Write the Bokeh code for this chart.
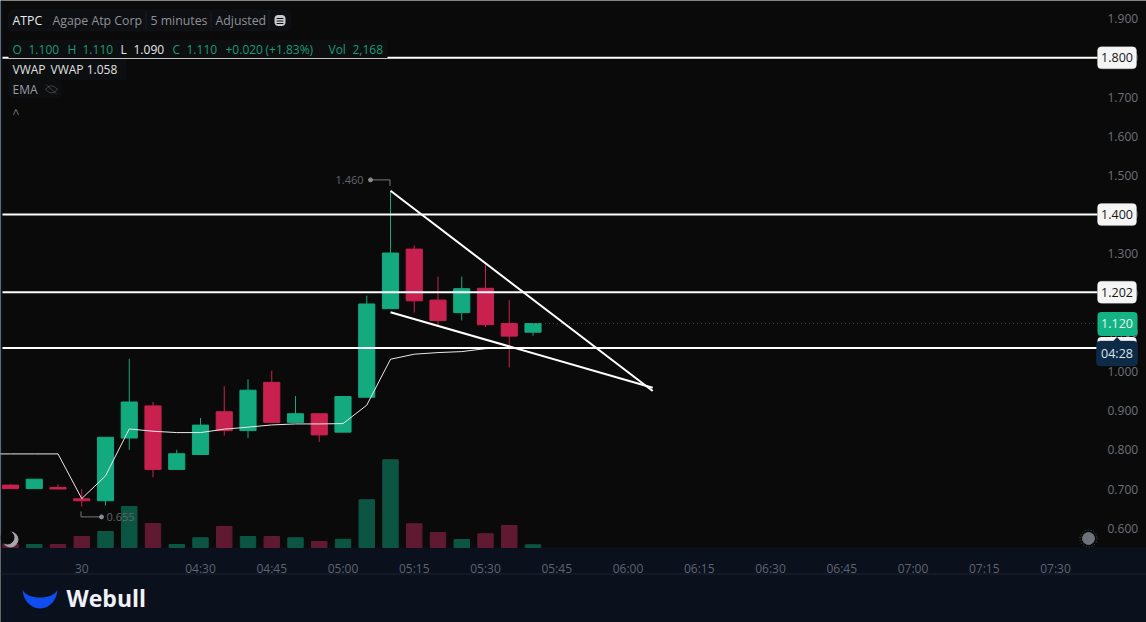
from bokeh.plotting import figure
from bokeh.embed import file_html
from bokeh.resources import INLINE
from bokeh.models import (Range1d, FixedTicker, NumeralTickFormatter, Label,
                          BoxAnnotation, PolyAnnotation, ColumnDataSource)
import math

FONT = "Open Sans"
BG = "#0a0a0a"
NAVY = "#0b101d"
GREEN = "#13aa7f"
RED = "#c9214f"
VGREEN = "#0d5543"
VRED = "#5f1a31"

minutes = [-10, -5, 0, 5, 10, 15, 20, 25, 30, 35, 40, 45, 50, 55, 60, 65, 70, 75, 80, 85, 90, 95, 100]
opens = [.710, .701, .704, .675, .670, .830, .912, .750, .788, .897, .849, .972, .870, .892, .845, .934, 1.160, 1.312, 1.182, 1.150, 1.212, 1.122, 1.100]
closes = [.701, .725, .700, .670, .832, .922, .750, .790, .863, .849, .952, .870, .892, .838, .936, 1.172, 1.302, 1.180, 1.130, 1.211, 1.119, 1.090, 1.122]
highs = [.712, .725, .712, .700, .832, 1.032, .922, .800, .881, .962, .980, 1.002, .937, .892, .936, 1.193, 1.460, 1.322, 1.242, 1.242, 1.273, 1.182, 1.122]
lows = [.701, .701, .700, .655, .658, .800, .730, .750, .788, .836, .830, .870, .870, .820, .845, .934, 1.160, 1.150, 1.114, 1.130, 1.113, 1.010, 1.091]
volumes = [2400, 2400, 2400, 8800, 12800, 32800, 19200, 2400, 7800, 16800, 8800, 8800, 7800, 4800, 6600, 38200, 70200, 19000, 12000, 6400, 11000, 17600, 2168]

vwap_x = [-14, -10, -5, 0, 5, 10, 15, 20, 25, 30, 35, 40, 45, 50, 55, 60, 65, 70, 75, 80, 85, 90, 95]
vwap_y = [.7895, .7895, .7895, .7895, .6755, .7334, .8533, .8474, .8439, .8439, .8526, .8577, .8635, .866, .866, .8668, .9138, 1.031, 1.0439, 1.048, 1.0505, 1.058, 1.0607]

levels = [1.800, 1.400, 1.202, 1.060]
level_labels = ["1.800", "1.400", "1.202"]
trend_upper_x, trend_upper_y = [70, 125.2], [1.461, .950]
trend_lower_x, trend_lower_y = [70, 125.2], [1.151, .9585]

price_ticks = [.6, .7, .8, .9, 1.0, 1.1, 1.2, 1.3, 1.4, 1.5, 1.6, 1.7, 1.8, 1.9]
time_ticks = [5, 30, 45, 60, 75, 90, 105, 120, 135, 150, 165, 180, 195, 210]
time_labels = ["30", "04:30", "04:45", "05:00", "05:15", "05:30", "05:45", "06:00", "06:15", "06:30", "06:45", "07:00", "07:15", "07:30"]

Y_ONE = 370.9


def px(rx):
    return 30 + (rx - 200) / 4.75


def py(ry):
    return 1 + (Y_ONE - ry) / 392


def pp(ry):
    # overlay position: keeps the same offset as the price scale
    return py(ry - 0.6)


def ry_of(price):
    return Y_ONE + (1 - price) * 392


VOL_PER_PX = 800
p = figure(frame_width=1146, frame_height=622, output_backend="svg", toolbar_location=None,
           x_range=Range1d(px(0), px(1146)), y_range=Range1d(py(622), py(0)),
           y_axis_location="right", min_border_left=0, min_border_top=0,
           min_border_right=0, min_border_bottom=0,
           background_fill_color=BG, border_fill_color=BG, outline_line_color=None)
p.extra_y_ranges = {"vol": Range1d(-75 * VOL_PER_PX, 547 * VOL_PER_PX)}
p.grid.visible = False

ya = p.yaxis[0]
ya.ticker = FixedTicker(ticks=price_ticks)
ya.formatter = NumeralTickFormatter(format="0.000")
ya.axis_line_color = None
ya.major_tick_line_color = None
ya.minor_tick_line_color = None
ya.major_label_text_color = "#6f7278"
ya.major_label_text_font = FONT
ya.major_label_text_font_size = "12px"
ya.major_label_standoff = -45

xa = p.xaxis[0]
xa.ticker = FixedTicker(ticks=time_ticks)
xa.major_label_overrides = dict(zip(time_ticks, time_labels))
xa.axis_line_color = None
xa.major_tick_line_color = None
xa.minor_tick_line_color = None
xa.major_label_text_color = "#5f6470"
xa.major_label_text_font = FONT
xa.major_label_text_font_size = "12px"
xa.major_label_standoff = -69

# footer band behind the time axis
p.add_layout(BoxAnnotation(left=px(0), right=px(1146), top=py(547), bottom=py(622), fill_color=NAVY,
                           fill_alpha=1, line_color=None, level="underlay"))
p.add_layout(BoxAnnotation(left=px(0), right=px(1146), top=py(573), bottom=py(574), fill_color="#1e2331",
                           fill_alpha=1, line_color=None, level="underlay"))
p.add_layout(BoxAnnotation(left=px(0), right=px(2), top=py(0), bottom=py(547), fill_color=NAVY,
                           fill_alpha=1, line_color=None, level="underlay"))

colors = [GREEN if c >= o else RED for o, c in zip(opens, closes)]
vcolors = [VGREEN if c >= o else VRED for o, c in zip(opens, closes)]
src = ColumnDataSource(dict(x=minutes, o=opens, c=closes, h=highs, l=lows, v=volumes, col=colors, vcol=vcolors,
                            top=[max(a, b) for a, b in zip(opens, closes)],
                            bot=[min(a, b) for a, b in zip(opens, closes)]))

p.vbar(x="x", width=3.25, top="v", bottom=0, y_range_name="vol", color="vcol", source=src)

# moon and marker
p.scatter([px(10)], [py(539)], size=15, color="#a5a5aa")
p.scatter([px(7)], [py(537)], size=13, color="#0a0a0a")
p.scatter([px(1088)], [py(538)], size=17, fill_color=None, line_color="#555a60", line_dash="1 2")
p.scatter([px(1088)], [py(538)], size=12, color="#6e7279")

p.segment(x0="x", x1="x", y0="l", y1="h", color="col", line_width=1, source=src)
p.vbar(x="x", width=3.4, top="top", bottom="bot", color="col", source=src)

p.line(vwap_x, vwap_y, color="#e8e8e8", line_width=1)

# last price dotted line
p.line([minutes[-1], px(1097)], [closes[-1], closes[-1]], color="#3a4a43", line_width=1, line_dash="1 3")

# high / low markers
p.line([px(370), px(389.5), px(389.5)], [pp(180), pp(180), pp(186)], color="#77797c", line_width=1)
p.scatter([px(370)], [pp(180)], size=4, color="#8a8c90")
p.line([px(80.5), px(80.5), px(101)], [pp(511.5), pp(517), pp(517)], color="#77797c", line_width=1)
p.scatter([px(101)], [pp(517)], size=4, color="#8a8c90")

for lv in levels:
    p.line([px(2), px(1097)], [lv, lv], color="white", line_width=2)
p.line(trend_upper_x, trend_upper_y, color="white", line_width=2)
p.line(trend_lower_x, trend_lower_y, color="white", line_width=2)


def txt(s, x, y, color="#c8c8c8", size="12.3px", align="left", **kw):
    p.add_layout(Label(x=px(x), y=pp(y), text=s, text_color=color, text_font=FONT, text_font_size=size,
                       text_align=align, text_baseline="middle", **kw))


def box(l, r, t, b, fill, line=None):
    p.add_layout(BoxAnnotation(left=px(l), right=px(r), top=pp(t), bottom=pp(b), fill_color=fill, fill_alpha=1,
                               line_color=line, border_radius=4))


txt("1.460", 363, 180, "#63656a", "11px", "right")
txt("0.655", 106, 517, "#63656a", "11px")

# header
box(8, 290, 10, 31, "#0e0f12", "#1b1c20")
for dx in (145, 210, 268):
    box(dx, dx + 1, 11, 30, "#1b1c20")
txt("ATPC", 12, 20.5, "#ececec")
txt("Agape Atp Corp", 52, 20.5, "#8f9296")
txt("5 minutes", 150, 20.5, "#8f9296")
txt("Adjusted", 215, 20.5, "#8f9296")
box(274, 285, 15, 26, "#c9cacc")
for ly in (18, 20.5, 23):
    box(276, 283, ly, ly + 1, "#0e0f12")

p.add_layout(BoxAnnotation(left=px(8), right=px(387), top=pp(40), bottom=pp(58), fill_color="#0d0e10", fill_alpha=1,
                           line_color=None))
OHLC = "#1d9a78"
for s, x, c in [("O", 12, OHLC), ("1.100", 28, OHLC), ("H", 67, OHLC), ("1.110", 82, OHLC), ("L", 120, "#e8e8e8"),
                ("1.090", 133, "#e8e8e8"), ("C", 172, OHLC), ("1.110", 186, OHLC), ("+0.020", 225, OHLC),
                ("(+1.83%)", 265, OHLC), ("Vol", 328, OHLC), ("2,168", 352, OHLC)]:
    txt(s, x, 49.5, c, "12px")

p.add_layout(BoxAnnotation(left=px(8), right=px(126), top=pp(59), bottom=pp(80), fill_color="#0d0e10", fill_alpha=1,
                           line_color=None))
txt("VWAP", 12, 69.5, "#e0e0e0", "12px")
txt("VWAP 1.058", 50, 69.5, "#e0e0e0", "12px")
box(8, 61, 80, 98, "#0d0e10")
txt("EMA", 12, 89.5, "#9a9da1", "12px")
txt("^", 12, 114, "#77797c", "12px")

# right-hand price tags
for lv, s in zip(levels, level_labels):
    box(1097, 1136, ry_of(lv) + 0.6 - 11, ry_of(lv) + 0.6 + 11, "#f5f5f5", "#dddddd")
    txt(s, 1116.5, ry_of(lv) + 0.6, "#151515", "12.5px", "center")
box(1097, 1136, 337, 359, "#f5f5f5")
box(1097, 1137, 312, 336, "#13b384")
txt("1.120", 1116.5, 324, "#e8f5f0", "12.5px", "center")
box(1096, 1137, 341, 366, "#0d2a47", "#14375c")
p.add_layout(PolyAnnotation(xs=[px(1112), px(1116.5), px(1121)], ys=[pp(342), pp(337), pp(342)],
                            fill_color="#0d2a47", fill_alpha=1, line_color=None))
txt("04:28", 1116.5, 354, "#dbe3ea", "12.5px", "center")

# eye icon in the EMA row
p.add_layout(PolyAnnotation(xs=[px(45 + 12 * i / 8) for i in range(9)] + [px(57 - 12 * i / 8) for i in range(1, 8)],
                            ys=[pp(89.5 - 3.5 * math.sin(math.pi * i / 8)) for i in range(9)]
                            + [pp(89.5 + 3.5 * math.sin(math.pi * i / 8)) for i in range(1, 8)],
                            fill_color=None, fill_alpha=0, line_color="#b0b3b6", line_width=1))
p.add_layout(PolyAnnotation(xs=[px(46), px(56)], ys=[pp(85), pp(94)], fill_alpha=0, line_color="#b0b3b6", line_width=1))

# footer logo
n = 24
crescent_x, crescent_y = [], []
for i in range(n + 1):
    t = math.pi * i / n
    crescent_x.append(39.5 - 17.5 * math.cos(t))
    crescent_y.append(588 + 20 * math.sin(t))
for i in range(n + 1):
    t = math.pi * i / n
    crescent_x.append(39.5 + 17.5 * math.cos(t))
    crescent_y.append(588 + 9 * math.sin(t))
p.add_layout(PolyAnnotation(xs=[px(v) for v in crescent_x], ys=[py(v) for v in crescent_y], fill_color="#0f4df0",
                            fill_alpha=1, line_color=None))
txt("Webull", 66, 598, "#f0f2f8", "23px", text_font_style="bold")

open("out.html", "w").write(file_html(p, INLINE))
